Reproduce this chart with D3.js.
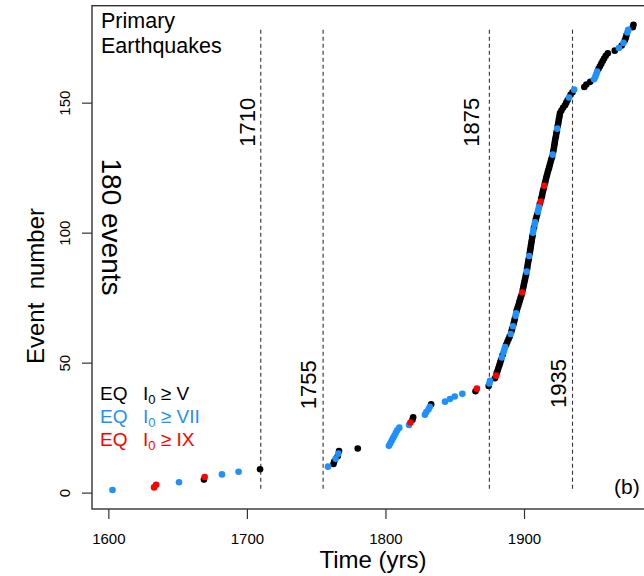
<!DOCTYPE html>
<html lang="en">
  <head>
    <meta charset="utf-8" />
    <title>Primary Earthquakes</title>
    <script src="https://d3js.org/d3.v7.min.js"></script>
    <style>
      body { margin: 0; background: #fff; }
      svg { display: block; font-family: "Liberation Sans", Arial, Helvetica, sans-serif; }
    </style>
  </head>
  <body>
    <script>
      // event dates (years), in event order 1..180
      var years = [
        1603, 1633, 1634.5, 1651, 1669, 1669.5, 1682, 1694, 1709.5, 1758.5,
        1762.5, 1763, 1764, 1765.5, 1766, 1766.5, 1780, 1802.5, 1803.5, 1804.5,
        1805.5, 1806.5, 1807.5, 1808.5, 1810, 1817, 1818, 1819.5, 1820, 1828.5,
        1829.5, 1831, 1832, 1833, 1843, 1846.5, 1850, 1855.5, 1865, 1866,
        1874.5, 1875, 1875.5, 1879, 1879.8, 1880.3, 1881, 1881.6, 1882.2, 1882.8,
        1883.4, 1884, 1884.6, 1885.2, 1885.8, 1886.4, 1887.2, 1888, 1888.8, 1889.6,
        1890.4, 1890.9, 1891.4, 1892, 1892.5, 1893, 1893.4, 1893.9, 1894.3, 1894.7,
        1895.3, 1895.9, 1896.5, 1897, 1897.6, 1898.2, 1898.7, 1899.1, 1899.5, 1899.9,
        1900.3, 1900.7, 1901.1, 1901.5, 1901.9, 1902.2, 1902.5, 1902.8, 1903.1, 1903.5,
        1903.8, 1904.1, 1904.4, 1904.7, 1905, 1905.3, 1905.6, 1905.9, 1906.2, 1906.5,
        1906.8, 1907.2, 1907.6, 1908, 1908.5, 1909, 1909.5, 1910, 1910.4, 1910.9,
        1911.4, 1912, 1912.4, 1912.9, 1913.3, 1913.7, 1914.2, 1914.6, 1915.1, 1915.6,
        1916, 1916.5, 1917, 1917.5, 1918.1, 1918.6, 1919.1, 1919.6, 1920.2, 1920.7,
        1921, 1921.4, 1921.7, 1922, 1922.3, 1922.6, 1923, 1923.3, 1923.7, 1924,
        1924.3, 1924.7, 1925, 1925.3, 1925.7, 1926, 1927, 1928.2, 1929.6, 1930.5,
        1931.5, 1932.5, 1933.6, 1935, 1936.2, 1943.5, 1945, 1947.8, 1950.5, 1951.5,
        1952.2, 1952.8, 1953.8, 1954.8, 1955.8, 1956.8, 1957.8, 1959, 1960.5, 1965.5,
        1968.5, 1970.5, 1971.8, 1972.8, 1973.5, 1974, 1974.6, 1975.2, 1978.5, 1979
      ];
      // event numbers with I0 >= VII (blue) and I0 >= IX (red); the rest are I0 >= V
      var blueEvents = [1, 4, 7, 8, 10, 13, 15, 18, 19, 20, 21, 22, 23, 24, 25, 26,
        30, 31, 32, 33, 35, 36, 37, 38, 42, 43, 52, 54, 55, 56, 61, 64, 68, 69,
        85, 91, 100, 101, 103, 104, 108, 109, 110, 130, 140, 152, 155,
        159, 160, 161, 162, 171, 173, 177, 178];
      var redEvents = [2, 3, 6, 27, 40, 45, 77, 112, 118];

      var markerYears = [1710, 1755, 1875, 1935];
      var markerLabelX = [1700, 1744, 1862, 1924.5];
      var markerLabelY = [142.5, 41.5, 142.5, 42];

      var xTicks = [1600, 1700, 1800, 1900];
      var yTicks = [0, 50, 100, 150];

      var legendNames = ["V", "VII", "IX"];
      var colors = ["#000000", "#1E90FF", "#FF0000"];

      var width = 644;
      var height = 576;

      var x = d3.scaleLinear().domain([1588.2, 1986.6]).range([92, 644]);
      var y = d3.scaleLinear().domain([-6.3, 187.3]).range([509, 5.7]);

      var events = years.map(function (yr, i) {
        var n = i + 1;
        var cls = 0;
        if (blueEvents.indexOf(n) >= 0) cls = 1;
        if (redEvents.indexOf(n) >= 0) cls = 2;
        return { year: yr, n: n, cls: cls };
      });
      // draw black first, then blue, then red on top
      events.sort(function (a, b) { return a.cls - b.cls || a.n - b.n; });

      var svg = d3
        .select("body")
        .append("svg")
        .attr("width", width)
        .attr("height", height);

      svg.append("rect")
        .attr("width", width)
        .attr("height", height)
        .attr("fill", "#fff");

      // dashed reference years
      svg.selectAll(".marker")
        .data(markerYears)
        .enter()
        .append("line")
        .attr("class", "marker")
        .attr("x1", function (d) { return x(d); })
        .attr("x2", function (d) { return x(d); })
        .attr("y1", y(1.5))
        .attr("y2", y(179))
        .attr("stroke", "#333")
        .attr("stroke-width", 1.1)
        .attr("stroke-dasharray", "4,3");

      svg.selectAll(".markerLabel")
        .data(markerYears)
        .enter()
        .append("text")
        .attr("class", "markerLabel")
        .attr("transform", function (d, i) {
          return "translate(" + x(markerLabelX[i]) + "," + y(markerLabelY[i]) + ") rotate(-90)";
        })
        .attr("text-anchor", "middle")
        .attr("dy", "0.36em")
        .attr("font-size", 22)
        .text(function (d) { return d; });

      // points
      svg.selectAll(".eq")
        .data(events)
        .enter()
        .append("circle")
        .attr("class", "eq")
        .attr("cx", function (d) { return x(d.year); })
        .attr("cy", function (d) { return y(d.n); })
        .attr("r", 3.3)
        .attr("fill", function (d) { return colors[d.cls]; });

      // box
      svg.append("rect")
        .attr("x", x(1588.2))
        .attr("y", y(187.3))
        .attr("width", 620)
        .attr("height", y(-6.3) - y(187.3))
        .attr("fill", "none")
        .attr("stroke", "#333")
        .attr("stroke-width", 1.4);

      // axes
      var xAxis = svg.append("g")
        .attr("transform", "translate(0," + y(-6.3) + ")")
        .call(d3.axisBottom(x).tickValues(xTicks).tickSize(10).tickPadding(14).tickFormat(d3.format("d")));
      xAxis.select(".domain").remove();
      xAxis.selectAll("line").attr("stroke", "#333").attr("stroke-width", 1.2);
      xAxis.selectAll("text")
        .attr("font-size", 15)
        .attr("font-family", "Liberation Sans, Arial, sans-serif")
        .attr("fill", "#000");

      var yAxis = svg.append("g")
        .attr("transform", "translate(" + x(1588.2) + ",0)")
        .call(d3.axisLeft(y).tickValues(yTicks).tickSize(10).tickFormat(d3.format("d")));
      yAxis.select(".domain").remove();
      yAxis.selectAll("line").attr("stroke", "#333").attr("stroke-width", 1.2);
      yAxis.selectAll("text")
        .attr("x", null)
        .attr("dy", null)
        .attr("text-anchor", "middle")
        .attr("transform", "translate(-22,0) rotate(-90)")
        .attr("font-size", 15)
        .attr("font-family", "Liberation Sans, Arial, sans-serif")
        .attr("fill", "#000");

      // axis titles
      svg.append("text")
        .attr("x", 373)
        .attr("y", 568)
        .attr("text-anchor", "middle")
        .attr("font-size", 24)
        .text("Time (yrs)");

      svg.append("text")
        .attr("transform", "translate(44,286) rotate(-90)")
        .attr("text-anchor", "middle")
        .attr("font-size", 24)
        .attr("xml:space", "preserve")
        .style("white-space", "pre")
        .text("Event  number");

      // annotations
      svg.append("text")
        .attr("x", 101)
        .attr("y", 28)
        .attr("font-size", 21.5)
        .text("Primary");
      svg.append("text")
        .attr("x", 101)
        .attr("y", 52.5)
        .attr("font-size", 21.5)
        .text("Earthquakes");

      svg.append("text")
        .attr("transform", "translate(101.5,227) rotate(90)")
        .attr("text-anchor", "middle")
        .attr("font-size", 28)
        .text("180 events");

      svg.append("text")
        .attr("x", 614)
        .attr("y", 494)
        .attr("font-size", 21)
        .text("(b)");

      // legend
      legendNames.forEach(function (name, i) {
        var t = svg.append("text")
          .attr("x", 100)
          .attr("y", 400 + i * 23)
          .attr("font-size", 19)
          .attr("fill", colors[i]);
        t.append("tspan").text("EQ");
        t.append("tspan").attr("x", 143).text("I");
        t.append("tspan").attr("font-size", 13).attr("dy", 4).text("0");
        t.append("tspan").attr("dy", -4).text(" \u2265 " + name);
      });
    </script>
  </body>
</html>
